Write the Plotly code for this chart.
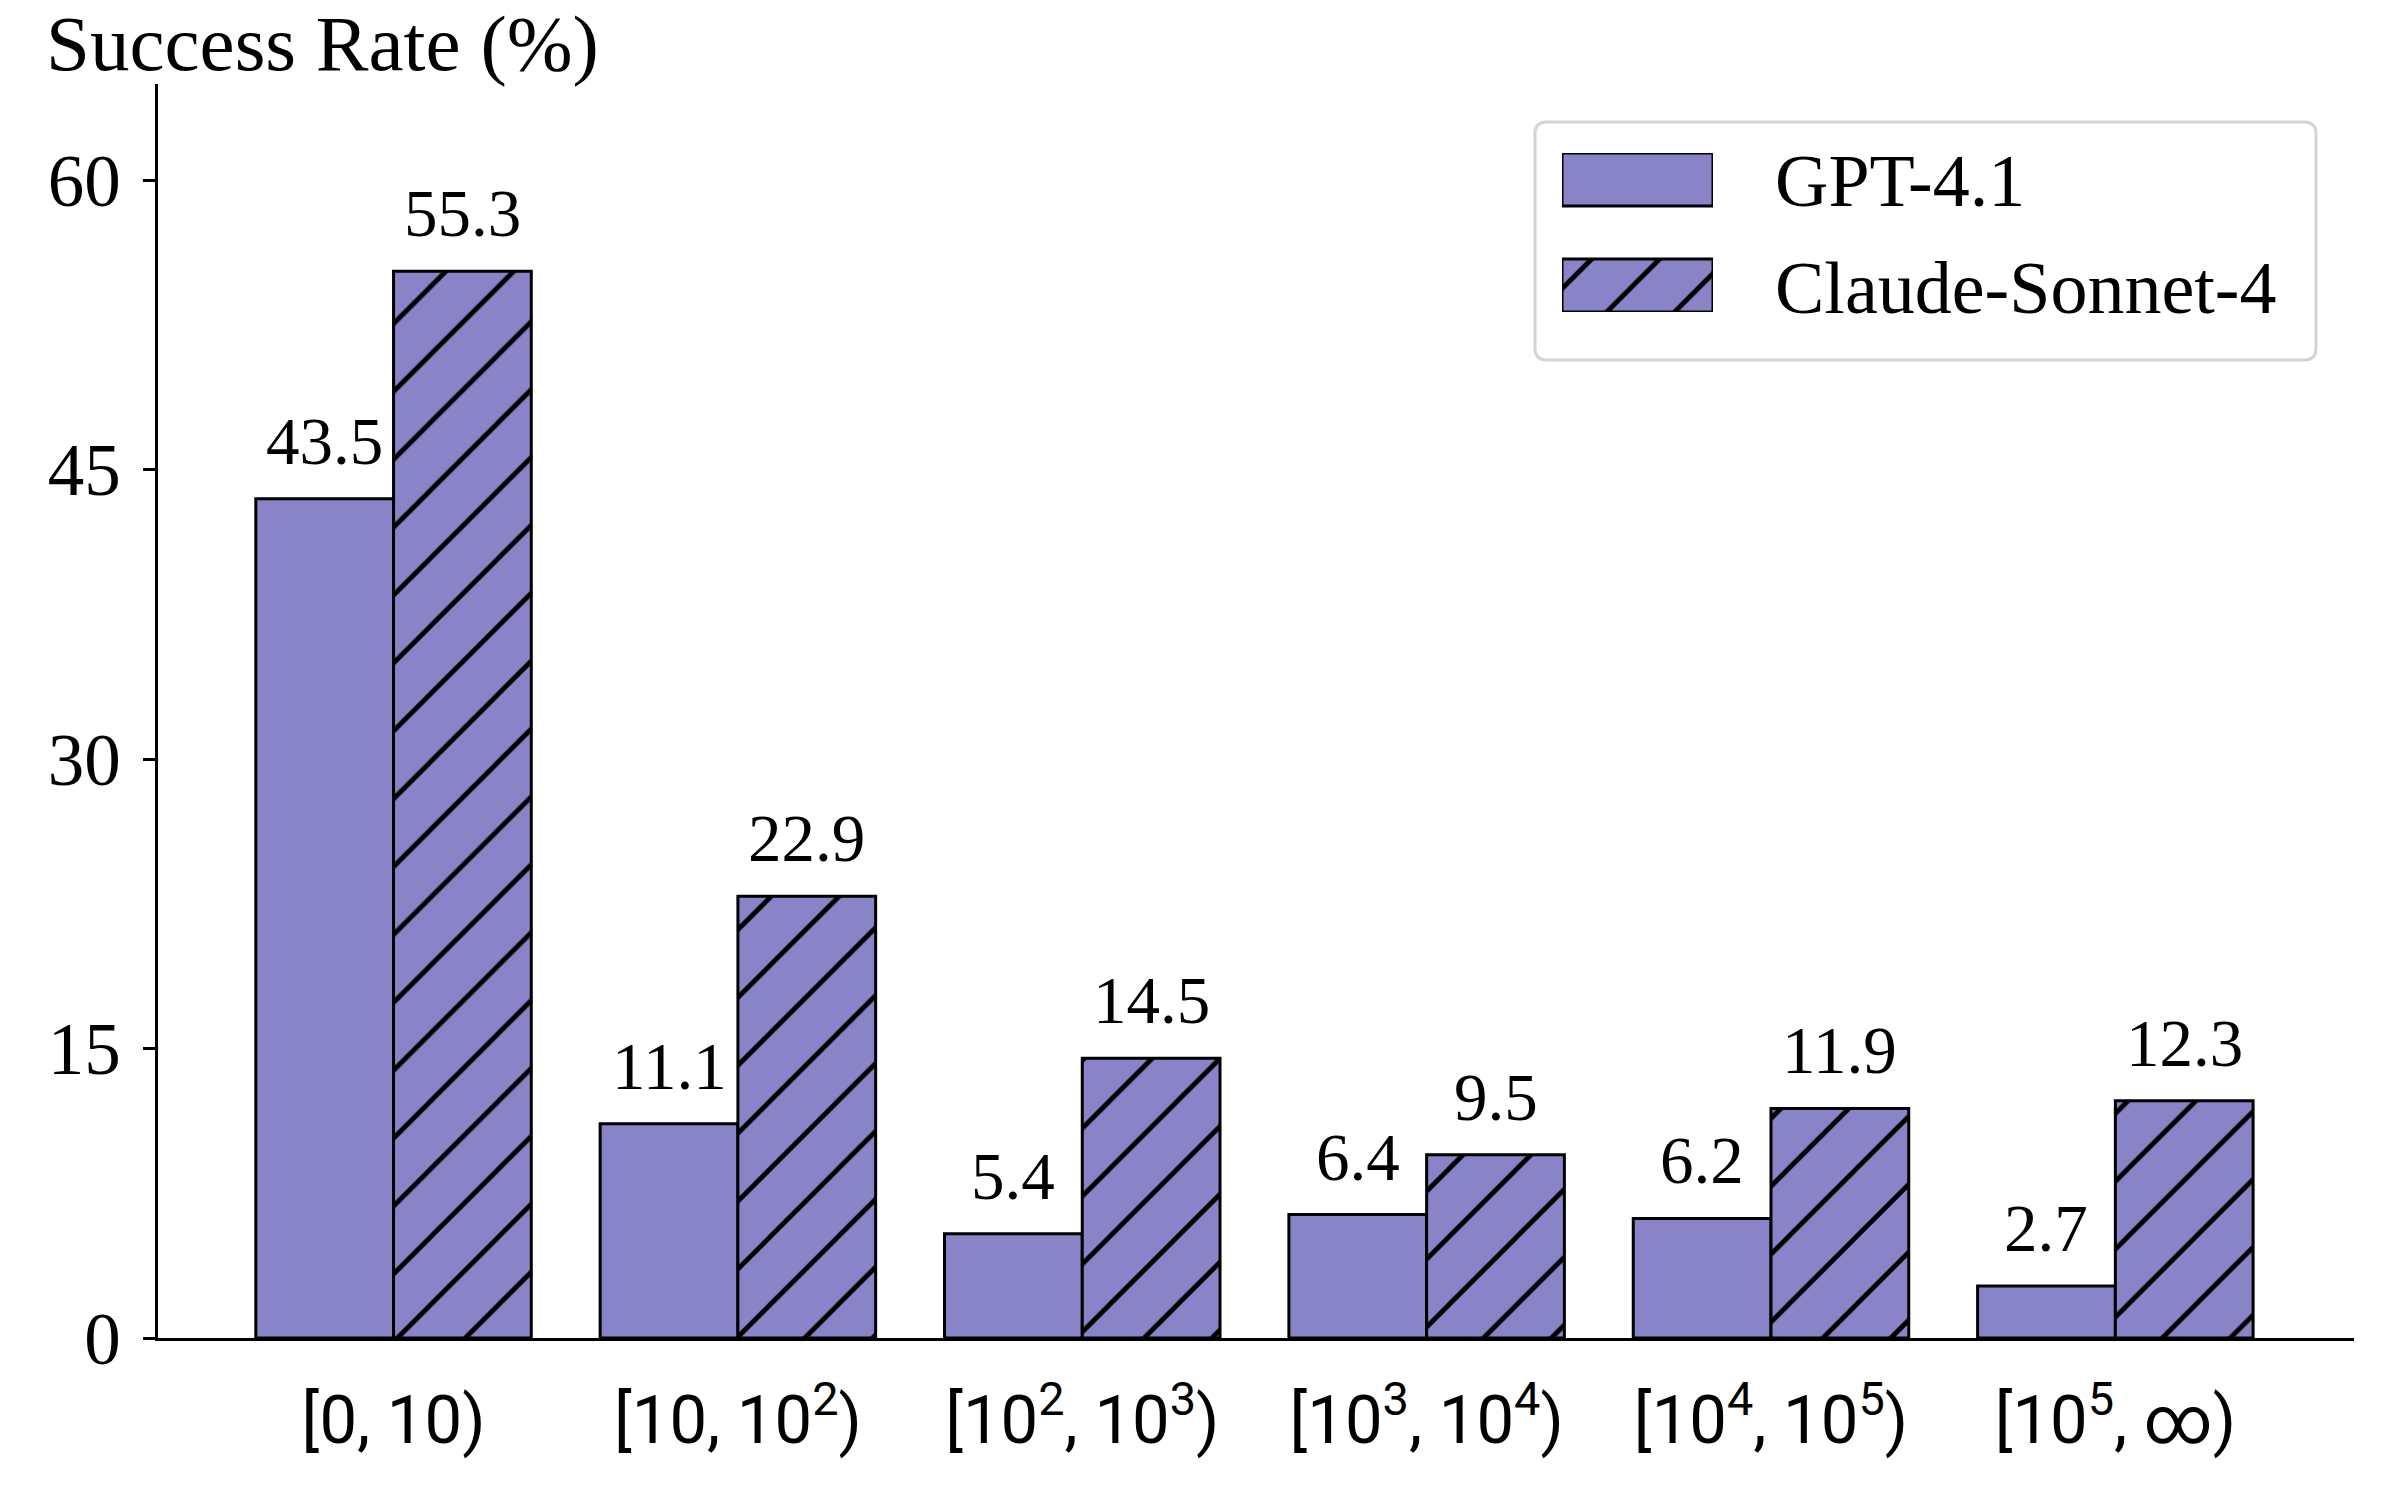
import plotly.graph_objects as go

# ---------------- data ----------------
categories = ["[0, 10)", "[10, 10<sup>2</sup>)", "[10<sup>2</sup>, 10<sup>3</sup>)",
              "[10<sup>3</sup>, 10<sup>4</sup>)", "[10<sup>4</sup>, 10<sup>5</sup>)", "[10<sup>5</sup>, ∞)"]
series_names = ["GPT-4.1", "Claude-Sonnet-4"]
gpt_values = [43.5, 11.1, 5.4, 6.4, 6.2, 2.7]
claude_values = [55.3, 22.9, 14.5, 9.5, 11.9, 12.3]
y_ticks = [0, 15, 30, 45, 60]
y_title = "Success Rate (%)"

# ---------------- style ----------------
W, H = 2400, 1500
L, R, T, B = 158, 46, 84, 162
PW, PH = W - L - R, H - T - B
FILL = "#8983C8"
SERIF = "Liberation Serif"
SANS = "Roboto"
BAR_W = 0.4
LW = 3


def px2paper_x(px):
    return (px - L) / PW


def px2paper_y(py):
    return (H - B - py) / PH


xs = list(range(len(categories)))


def hatch():
    return dict(shape="/", size=48, solidity=0.1, fgcolor="black", bgcolor=FILL, fillmode="replace")


fig = go.Figure()
fig.add_trace(go.Bar(x=xs, y=gpt_values, width=BAR_W, offset=-BAR_W, name=series_names[0],
                     marker=dict(color=FILL, line=dict(color="black", width=LW)), showlegend=False))
fig.add_trace(go.Bar(x=xs, y=claude_values, width=BAR_W, offset=0, name=series_names[1],
                     marker=dict(color=FILL, pattern=hatch(), line=dict(color="black", width=LW)),
                     showlegend=False))

annotations = []
for i, v in enumerate(gpt_values):
    annotations.append(dict(x=i - BAR_W / 2, y=v, xref="x", yref="y", text=f"{v:.1f}", showarrow=False,
                            yanchor="middle", yshift=58, font=dict(family=SERIF, size=67, color="black")))
for i, v in enumerate(claude_values):
    annotations.append(dict(x=i + BAR_W / 2, y=v, xref="x", yref="y", text=f"{v:.1f}", showarrow=False,
                            yanchor="middle", yshift=58, font=dict(family=SERIF, size=67, color="black")))

# y title at top-left
annotations.append(dict(x=px2paper_x(44), y=px2paper_y(44), xref="paper", yref="paper", text=y_title,
                        showarrow=False, xanchor="left", yanchor="middle",
                        font=dict(family=SERIF, size=79, color="black")))

# ---------------- custom legend ----------------
# legend patches drawn as bars on a hidden overlay axis
fig.add_trace(go.Bar(x=[0], y=[1], base=[2], width=1, offset=-0.5, xaxis="x2", yaxis="y2",
                     marker=dict(color=FILL, line=dict(color="black", width=LW)), showlegend=False,
                     hoverinfo="skip"))
fig.add_trace(go.Bar(x=[0], y=[1], base=[0], width=1, offset=-0.5, xaxis="x2", yaxis="y2",
                     marker=dict(color=FILL, pattern=hatch(), line=dict(color="black", width=LW)),
                     showlegend=False, hoverinfo="skip"))

for name, py in zip(series_names, [181, 288]):
    annotations.append(dict(x=px2paper_x(1773), y=px2paper_y(py), xref="paper", yref="paper", text=name,
                            showarrow=False, xanchor="left", yanchor="middle",
                            font=dict(family=SERIF, size=74, color="black")))

# rounded legend box
bx0, bx1, by0, by1 = px2paper_x(1535), px2paper_x(2316), px2paper_y(360), px2paper_y(122)
rx, ry = 12 / PW, 12 / PH
path = (f"M{bx0 + rx},{by0} L{bx1 - rx},{by0} Q{bx1},{by0} {bx1},{by0 + ry} "
        f"L{bx1},{by1 - ry} Q{bx1},{by1} {bx1 - rx},{by1} "
        f"L{bx0 + rx},{by1} Q{bx0},{by1} {bx0},{by1 - ry} "
        f"L{bx0},{by0 + ry} Q{bx0},{by0} {bx0 + rx},{by0} Z")
shapes = [dict(type="path", path=path, xref="paper", yref="paper",
               line=dict(color="#d4d4d4", width=3), fillcolor="rgba(255,255,255,0.8)", layer="below")]

fig.update_layout(
    width=W, height=H, autosize=False,
    margin=dict(l=L, r=R, t=T, b=B, pad=0),
    plot_bgcolor="white", paper_bgcolor="white",
    barmode="overlay",
    showlegend=False,
    annotations=annotations,
    shapes=shapes,
    xaxis=dict(range=[-0.684, 5.693], tickvals=xs, ticktext=categories, showline=True, linecolor="black",
               linewidth=2.5, ticks="", showgrid=False, zeroline=False, ticklabelstandoff=22,
               tickfont=dict(family=SANS, size=67, color="black")),
    yaxis=dict(range=[0, 65], tickvals=y_ticks, showline=True, linecolor="black", linewidth=2.5,
               ticks="outside", ticklen=12, tickwidth=2.5, tickcolor="black", showgrid=False,
               zeroline=False, ticklabelstandoff=8,
               tickfont=dict(family=SERIF, size=73, color="black")),
    xaxis2=dict(domain=[px2paper_x(1562), px2paper_x(1713)], anchor="y2", range=[-0.5, 0.5], visible=False),
    yaxis2=dict(domain=[px2paper_y(312), px2paper_y(153)], anchor="x2", range=[0, 3], visible=False),
)

fig.write_html("out.html")
